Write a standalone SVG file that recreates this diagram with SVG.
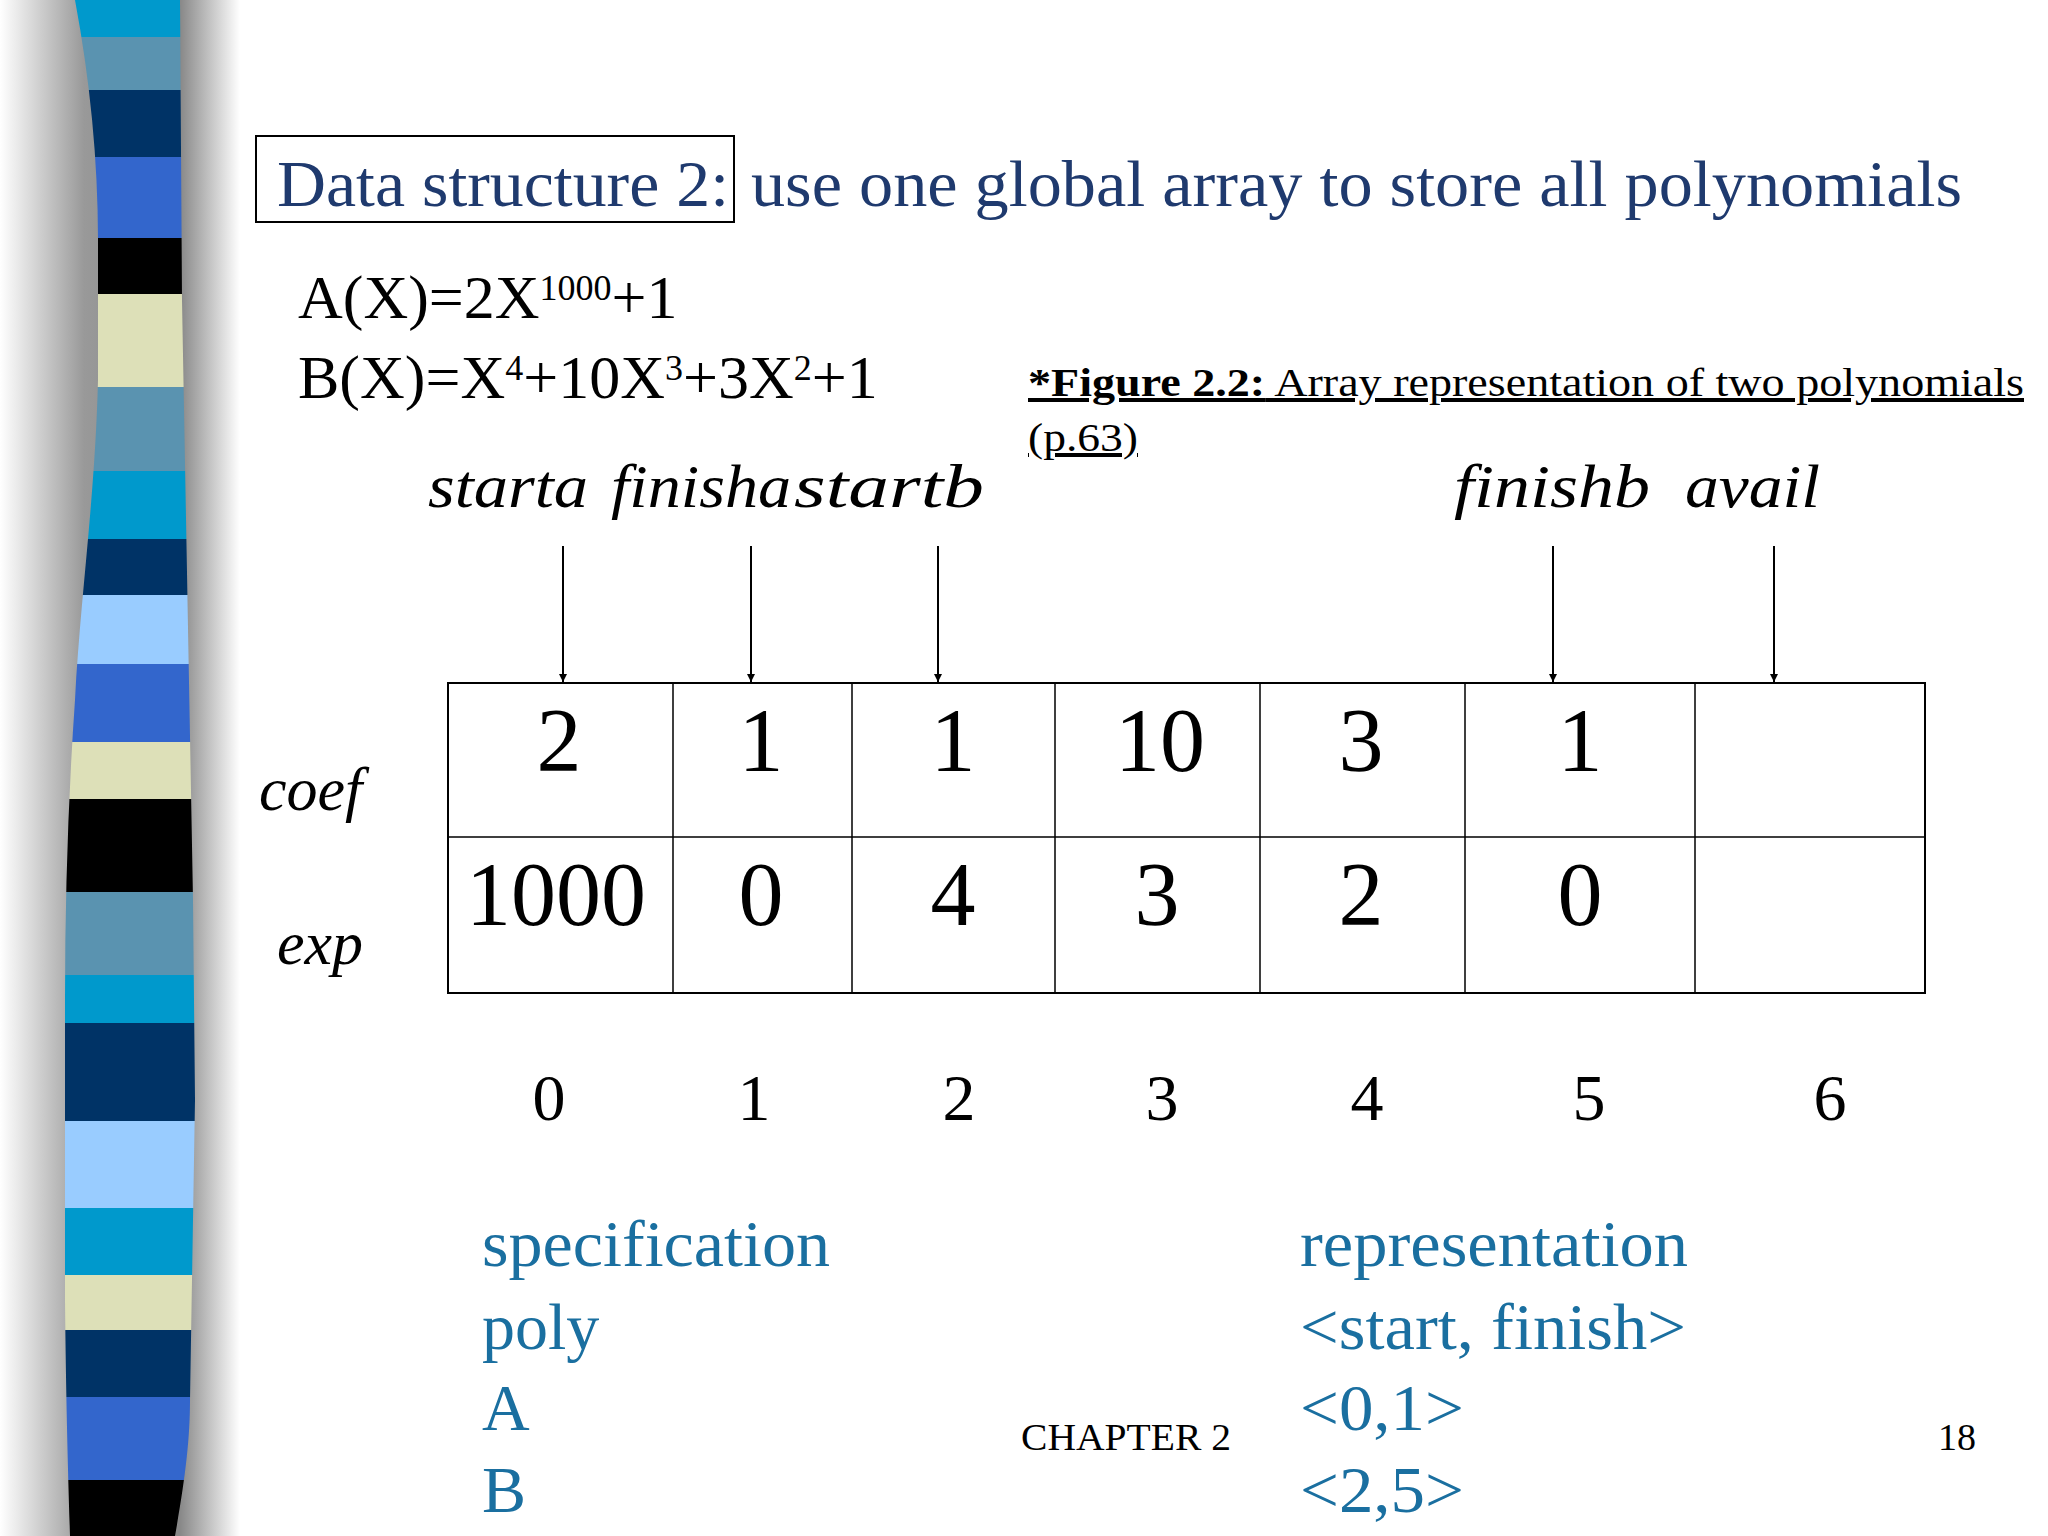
<svg xmlns="http://www.w3.org/2000/svg" width="2048" height="1536" viewBox="0 0 2048 1536">
<style>
.t{font-family:"Liberation Serif","Times New Roman",serif}
.navy{fill:#1f3a6e}
.teal{fill:#1a6fa0}
.it{font-style:italic}
.ln{stroke:#000;stroke-width:2;fill:none}
</style>
<defs>
<linearGradient id="sh" x1="0" x2="1" y1="0" y2="0">
<stop offset="0" stop-color="#fff"/>
<stop offset="0.35" stop-color="#999"/>
<stop offset="0.75" stop-color="#888"/>
<stop offset="1" stop-color="#fff"/>
</linearGradient>
<clipPath id="band"><path d="M75,0 C90,80 98,160 98,240 L98,380 C95,500 80,600 75,700 C68,800 65,900 65,1000 L65,1300 C66,1400 68,1470 70,1536 L175,1536 C185,1480 190,1440 190,1400 L195,1100 L193,900 L182,300 L180,0 Z"/></clipPath>
<marker id="ah" viewBox="0 0 10 10" refX="10" refY="5" markerWidth="8" markerHeight="8" orient="auto" markerUnits="userSpaceOnUse"><path d="M0,0 L10,5 L0,10 Z" fill="#000"/></marker>
</defs>
<rect width="2048" height="1536" fill="#fff"/>
<rect x="0" y="0" width="240" height="1536" fill="url(#sh)"/>
<g clip-path="url(#band)">
<rect x="0" y="0" width="240" height="37" fill="#0099cc"/>
<rect x="0" y="37" width="240" height="53" fill="#5a93b0"/>
<rect x="0" y="90" width="240" height="67" fill="#003366"/>
<rect x="0" y="157" width="240" height="81" fill="#3366cc"/>
<rect x="0" y="238" width="240" height="56" fill="#000"/>
<rect x="0" y="294" width="240" height="93" fill="#dde0b8"/>
<rect x="0" y="387" width="240" height="84" fill="#5a93b0"/>
<rect x="0" y="471" width="240" height="68" fill="#0099cc"/>
<rect x="0" y="539" width="240" height="56" fill="#003366"/>
<rect x="0" y="595" width="240" height="69" fill="#99ccff"/>
<rect x="0" y="664" width="240" height="78" fill="#3366cc"/>
<rect x="0" y="742" width="240" height="57" fill="#dde0b8"/>
<rect x="0" y="799" width="240" height="93" fill="#000"/>
<rect x="0" y="892" width="240" height="83" fill="#5a93b0"/>
<rect x="0" y="975" width="240" height="48" fill="#0099cc"/>
<rect x="0" y="1023" width="240" height="98" fill="#003366"/>
<rect x="0" y="1121" width="240" height="87" fill="#99ccff"/>
<rect x="0" y="1208" width="240" height="67" fill="#0099cc"/>
<rect x="0" y="1275" width="240" height="55" fill="#dde0b8"/>
<rect x="0" y="1330" width="240" height="67" fill="#003366"/>
<rect x="0" y="1397" width="240" height="83" fill="#3366cc"/>
<rect x="0" y="1480" width="240" height="56" fill="#000"/>
</g>
<g id="title">
<rect x="256" y="136" width="478" height="86" fill="none" stroke="#000" stroke-width="2"/>
<text class="t navy" x="277" y="206" font-size="66" textLength="452" lengthAdjust="spacingAndGlyphs">Data structure 2:</text>
<text class="t navy" x="751" y="206" font-size="66" textLength="1211" lengthAdjust="spacingAndGlyphs">use one global array to store all polynomials</text>
</g>
<g id="formulas" class="t" font-size="62">
<text x="298" y="318">A(X)=2X<tspan font-size="36" dy="-18">1000</tspan><tspan dy="18">+1</tspan></text>
<text x="298" y="398">B(X)=X<tspan font-size="36" dy="-18">4</tspan><tspan dy="18">+10X</tspan><tspan font-size="36" dy="-18">3</tspan><tspan dy="18">+3X</tspan><tspan font-size="36" dy="-18">2</tspan><tspan dy="18">+1</tspan></text>
</g>
<g id="caption" class="t" font-size="40" text-decoration="underline">
<text x="1028" y="396" textLength="996" lengthAdjust="spacingAndGlyphs"><tspan font-weight="bold">*Figure 2.2:</tspan> Array representation of two polynomials </text>
<text x="1028" y="451" textLength="110" lengthAdjust="spacingAndGlyphs">(p.63)</text>
</g>
<g id="pointers" class="t it" font-size="62">
<text x="428" y="507" textLength="160" lengthAdjust="spacingAndGlyphs">starta</text>
<text x="611" y="507" textLength="180" lengthAdjust="spacingAndGlyphs">finisha</text>
<text x="794" y="507" textLength="190" lengthAdjust="spacingAndGlyphs">startb</text>
<text x="1454" y="507" textLength="196" lengthAdjust="spacingAndGlyphs">finishb</text>
<text x="1685" y="507" textLength="135" lengthAdjust="spacingAndGlyphs">avail</text>
</g>
<g id="connectors">
<line class="ln" x1="563" y1="546" x2="563" y2="682" marker-end="url(#ah)"/>
<line class="ln" x1="751" y1="546" x2="751" y2="682" marker-end="url(#ah)"/>
<line class="ln" x1="938" y1="546" x2="938" y2="682" marker-end="url(#ah)"/>
<line class="ln" x1="1553" y1="546" x2="1553" y2="682" marker-end="url(#ah)"/>
<line class="ln" x1="1774" y1="546" x2="1774" y2="682" marker-end="url(#ah)"/>
</g>
<g id="table">
<rect x="448" y="683" width="1477" height="310" fill="none" stroke="#000" stroke-width="2"/>
<path d="M448,837 H1925 M673,683 V993 M852,683 V993 M1055,683 V993 M1260,683 V993 M1465,683 V993 M1695,683 V993" stroke="#000" stroke-width="1.5" fill="none"/>
<g class="t" font-size="90" text-anchor="middle">
<text x="559" y="771">2</text><text x="761" y="771">1</text><text x="953" y="771">1</text><text x="1160" y="771">10</text><text x="1361" y="771">3</text><text x="1580" y="771">1</text>
<text x="556" y="925">1000</text><text x="761" y="925">0</text><text x="953" y="925">4</text><text x="1157" y="925">3</text><text x="1361" y="925">2</text><text x="1580" y="925">0</text>
</g>
<text class="t it" x="259" y="810" font-size="62">coef</text>
<text class="t it" x="277" y="964" font-size="62">exp</text>
</g>
<g id="indices" class="t" font-size="66" text-anchor="middle">
<text x="549" y="1120">0</text><text x="754" y="1120">1</text><text x="959" y="1120">2</text><text x="1162" y="1120">3</text><text x="1367" y="1120">4</text><text x="1589" y="1120">5</text><text x="1830" y="1120">6</text>
</g>
<g id="bottom" class="t teal" font-size="66">
<text x="482" y="1266" textLength="348" lengthAdjust="spacingAndGlyphs">specification</text>
<text x="482" y="1349">poly</text>
<text x="482" y="1430">A</text>
<text x="482" y="1512">B</text>
<text x="1300" y="1266" textLength="388" lengthAdjust="spacingAndGlyphs">representation</text>
<text x="1300" y="1349" textLength="386" lengthAdjust="spacingAndGlyphs">&lt;start, finish&gt;</text>
<text x="1300" y="1430" textLength="164" lengthAdjust="spacingAndGlyphs">&lt;0,1&gt;</text>
<text x="1300" y="1512" textLength="164" lengthAdjust="spacingAndGlyphs">&lt;2,5&gt;</text>
</g>
<g id="footer" class="t" font-size="38">
<text x="1021" y="1450" textLength="210" lengthAdjust="spacingAndGlyphs">CHAPTER 2</text>
<text x="1938" y="1450">18</text>
</g>
</svg>
